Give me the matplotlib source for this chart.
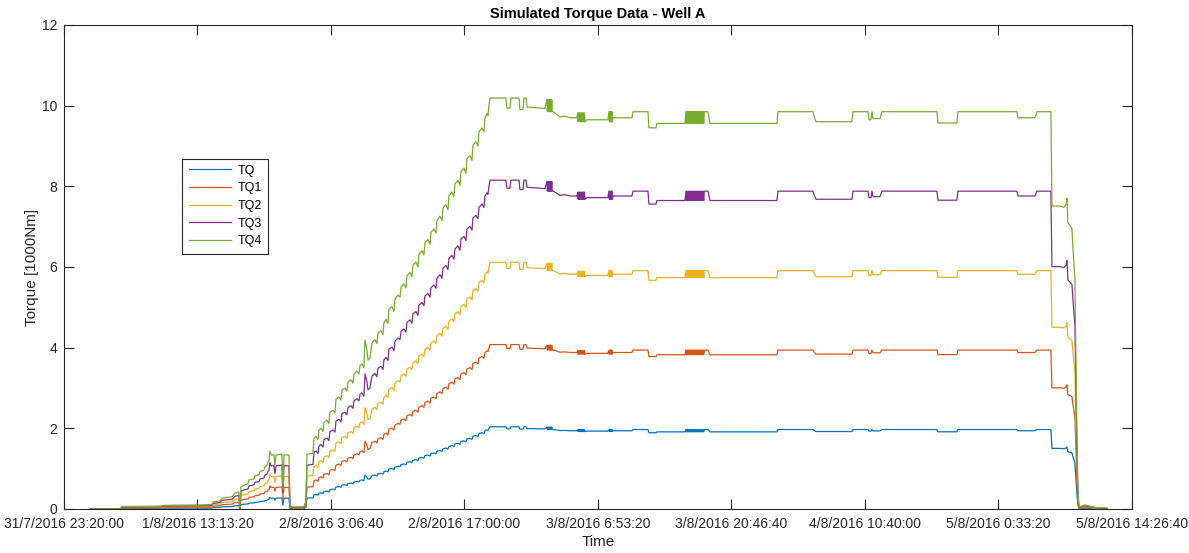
import numpy as np
import pandas as pd
import matplotlib
matplotlib.use("Agg")
import matplotlib.pyplot as plt
import matplotlib.dates as mdates
from matplotlib.ticker import FuncFormatter

plt.rcParams["font.family"] = ["Liberation Sans", "DejaVu Sans"]

# base torque channel (1000Nm) vs. hours since 31/7/2016 23:20:00
hours = [
    # idle + first run
    2.70, 5.83, 6.03, 9.99, 10.51, 14.15, 15.40, 15.50, 16.23, 16.44,
    17.48, 17.79, 18.21, 18.31, 18.41, 18.83, 19.14, 19.25, 19.77, 19.87,
    20.29, 20.39, 20.81, 20.91, 21.12, 21.22, 21.33, 21.43, 21.54, 21.85,
    21.95, 22.06, 22.68, 22.78, 22.89, 23.41, 23.51, 23.72, 24.97, 25.18,
    # ramp up
    25.28, 25.39, 25.91, 26.01, 26.22, 26.43, 26.53, 26.74, 26.95, 27.05,
    27.36, 27.57, 27.67, 27.99, 28.19, 28.30, 28.61, 28.82, 28.92, 29.23,
    29.44, 29.55, 29.86, 30.07, 30.17, 30.48, 30.69, 30.80, 31.00, 31.21,
    31.32, 31.52, 31.63, 31.84, 32.04, 32.36, 32.56, 32.67, 32.98, 33.19,
    33.29, 33.50, 33.71, 33.81, 34.12, 34.33, 34.44, 34.75, 34.96, 35.06,
    35.37, 35.58, 35.68, 36.00, 36.20, 36.31, 36.62, 36.83, 36.93, 37.25,
    37.45, 37.56, 37.87, 38.08, 38.18, 38.49, 38.70, 38.81, 39.12, 39.33,
    39.43, 39.74, 39.95, 40.05, 40.37, 40.57, 40.68, 40.99, 41.20, 41.30,
    41.61, 41.82, 41.93, 42.24, 42.45, 42.55, 42.86, 43.07, 43.18, 43.49,
    43.70, 43.80, 44.01, 44.11, 44.22, 44.32,
    # plateau
    45.98, 46.09, 46.40, 46.50, 47.34, 47.44, 47.75, 47.86, 48.07, 48.17,
    50.04,
    50.25, 50.30, 50.35, 50.40, 50.45, 50.50, 50.55, 50.60, 50.65, 50.70,
    50.75, 50.80,
    50.87, 51.19, 51.39, 51.60, 52.12, 52.64, 53.37,
    53.45, 53.50, 53.55, 53.60, 53.65, 53.70, 53.75, 53.80, 53.85, 53.90,
    53.95, 54.00, 54.05, 54.10, 54.15, 54.20,
    54.41, 56.59,
    56.70, 56.75, 56.80, 56.85, 56.90, 56.95, 57.00, 57.05,
    57.12, 59.09, 59.20, 60.76, 60.86, 61.59, 61.69, 64.61, 64.71,
    64.76, 64.82, 64.88, 64.94, 65.00, 65.06, 65.12, 65.18, 65.24, 65.30,
    65.36, 65.42, 65.48, 65.54, 65.60, 65.66, 65.72, 65.78, 65.84, 65.90,
    65.96, 66.02, 66.08, 66.14, 66.20, 66.26, 66.32, 66.38, 66.44, 66.50,
    66.56,
    66.62, 67.00, 67.21,
    74.18, 74.28, 77.92, 78.03, 78.24, 81.98, 82.09, 83.65, 83.75, 83.96,
    84.06, 84.17, 84.90, 85.10, 90.83, 90.93, 92.90, 93.01, 99.15, 99.25,
    101.02, 101.23, 102.68,
    # pull out
    102.79, 103.62, 104.04, 104.25, 104.35, 104.45, 104.87,
    104.97, 105.18, 105.28, 105.39, 105.49, 105.60, 106.22, 107.26, 108.51,
]
tq = [
    0.0, 0.0, 0.012, 0.014, 0.018, 0.020, 0.022, 0.034, 0.040, 0.054,
    0.060, 0.078, 0.084, 0.0, 0.110, 0.120, 0.124, 0.144, 0.150, 0.164,
    0.170, 0.186, 0.192, 0.210, 0.216, 0.234, 0.240, 0.288, 0.268, 0.268,
    0.220, 0.268, 0.272, 0.100, 0.268, 0.268, 0.020, 0.010, 0.010, 0.040,

    0.272, 0.272, 0.276, 0.350, 0.360, 0.344, 0.390, 0.400, 0.384, 0.430,
    0.440, 0.424, 0.480, 0.490, 0.476, 0.544, 0.556, 0.540, 0.590, 0.600,
    0.584, 0.630, 0.640, 0.624, 0.670, 0.684, 0.670, 0.710, 0.720, 0.700,
    0.838, 0.790, 0.738, 0.750, 0.824, 0.840, 0.820, 0.872, 0.884, 0.864,
    0.924, 0.940, 0.920, 0.990, 1.004, 0.980, 1.040, 1.060, 1.050, 1.100,
    1.116, 1.096, 1.156, 1.172, 1.152, 1.210, 1.224, 1.200, 1.264, 1.280,
    1.260, 1.320, 1.336, 1.312, 1.372, 1.388, 1.368, 1.432, 1.452, 1.430,
    1.492, 1.510, 1.484, 1.552, 1.572, 1.548, 1.612, 1.630, 1.604, 1.672,
    1.690, 1.664, 1.736, 1.752, 1.728, 1.804, 1.820, 1.800, 1.870, 1.890,
    1.870, 1.940, 1.960, 1.950, 2.000, 2.038,

    2.038, 1.988, 1.988, 2.038, 2.038, 1.980, 1.980, 2.038, 2.038, 1.994,
    1.986,
    2.030, 1.970, 2.030, 1.970, 2.030, 1.970, 2.030, 1.970, 2.030, 1.970,
    2.030, 1.970,
    1.970, 1.960, 1.952, 1.944, 1.948, 1.940, 1.940,
    1.964, 1.920, 1.964, 1.920, 1.964, 1.920, 1.964, 1.920, 1.964, 1.920,
    1.964, 1.920, 1.964, 1.920, 1.964, 1.920,
    1.930, 1.930,
    1.970, 1.920, 1.970, 1.920, 1.970, 1.920, 1.970, 1.920,
    1.940, 1.940, 1.970, 1.970, 1.890, 1.890, 1.912, 1.912, 1.970,
    1.912, 1.970, 1.912, 1.970, 1.912, 1.970, 1.912, 1.970, 1.912, 1.970,
    1.912, 1.970, 1.912, 1.970, 1.912, 1.970, 1.912, 1.970, 1.912, 1.970,
    1.912, 1.970, 1.912, 1.970, 1.912, 1.970, 1.912, 1.970, 1.912, 1.970,
    1.912,
    1.970, 1.970, 1.912,
    1.912, 1.970, 1.970, 1.950, 1.920, 1.920, 1.970, 1.970, 1.930, 1.930,
    1.970, 1.936, 1.936, 1.970, 1.970, 1.914, 1.914, 1.970, 1.970, 1.940,
    1.940, 1.970, 1.970,

    1.502, 1.502, 1.496, 1.510, 1.540, 1.420, 1.392,
    1.300, 1.140, 0.750, 0.360, 0.100, 0.010, 0.020, 0.008, 0.004,
]

labels = ["TQ", "TQ1", "TQ2", "TQ3", "TQ4"]
gains = [1, 2, 3, 4, 5]
colors = ["#0072BD", "#D95319", "#EDB120", "#7E2F8E", "#77AC30"]

start = pd.Timestamp("2016-07-31 23:20:00")
t = start + pd.to_timedelta(hours, unit="h")
tq = np.array(tq)

fig = plt.figure(figsize=(11.89, 5.53), dpi=100)
ax = fig.add_axes([0.0538, 0.0796, 0.8982, 0.8752])

for lab, g, c in zip(labels, gains, colors):
    ax.plot(t, tq * g, color=c, lw=0.9, label=lab)

ticks = [start + pd.Timedelta(seconds=50000 * k) for k in range(9)]
ax.set_xlim(mdates.date2num(ticks[0]), mdates.date2num(ticks[-1]))
ax.set_xticks([mdates.date2num(k) for k in ticks])


def fmt(x, pos):
    d = pd.Timestamp(mdates.num2date(x)).round("s")
    return f"{d.day}/{d.month}/{d.year} {d.hour}:{d.minute:02d}:{d.second:02d}"


ax.xaxis.set_major_formatter(FuncFormatter(fmt))
ax.set_ylim(0, 12)
ax.set_yticks(range(0, 13, 2))

dark = "#262626"
ax.tick_params(direction="in", length=7, width=0.8, top=True, right=True,
               labelsize=10, colors=dark, pad=5)
ax.tick_params(axis="x", pad=6)
for s in ax.spines.values():
    s.set_color(dark)
    s.set_linewidth(0.8)

ax.set_title("Simulated Torque Data - Well A", fontsize=10.5, fontweight="bold",
             color="black", pad=5)
ax.set_xlabel("Time", fontsize=11, color=dark, labelpad=3)
ax.set_ylabel("Torque [1000Nm]", fontsize=11, color=dark, labelpad=2)

leg = ax.legend(loc="upper left", bbox_to_anchor=(0.105, 0.737), fontsize=9,
                fancybox=False, framealpha=1, edgecolor=dark, handlelength=3.4,
                handletextpad=0.5, labelspacing=0.45, borderpad=0.5)
leg.get_frame().set_linewidth(0.8)

fig.savefig("out.png", dpi=100)
